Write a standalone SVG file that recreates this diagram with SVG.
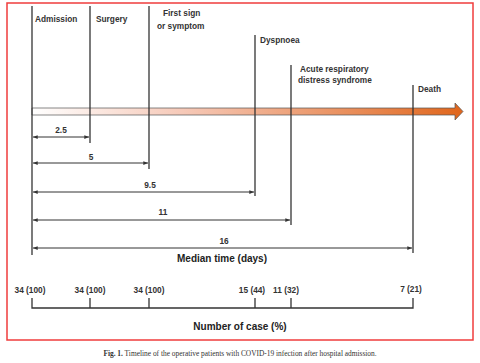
<svg xmlns="http://www.w3.org/2000/svg" width="480" height="363" viewBox="0 0 480 363">
<style>
.t{font-family:"Liberation Sans",Arial,sans-serif;font-weight:bold;font-size:8.3px;fill:#333}
.n{font-family:"Liberation Sans",Arial,sans-serif;font-weight:bold;font-size:8.3px;fill:#333}
.h{font-family:"Liberation Sans",Arial,sans-serif;font-weight:bold;font-size:10px;fill:#222}
.v{stroke:#333;stroke-width:1.3;fill:none}
.d{stroke:#333;stroke-width:1;fill:none;marker-start:url(#a);marker-end:url(#a)}
.cap{font-family:"Liberation Serif","Times New Roman",serif;font-size:7.4px;fill:#333}
</style>
<defs>
<linearGradient id="g" x1="0" x2="1" y1="0" y2="0">
<stop offset="0" stop-color="#ffffff"/>
<stop offset="0.35" stop-color="#f6c9b8"/>
<stop offset="1" stop-color="#e0661c"/>
</linearGradient>
<marker id="a" viewBox="0 0 8 8" refX="7.5" refY="4" markerWidth="5" markerHeight="5" orient="auto-start-reverse" markerUnits="userSpaceOnUse">
<path d="M0,1 L8,4 L0,7 Z" fill="#333"/>
</marker>
</defs>
<rect x="7" y="3" width="466" height="337" fill="#fff" stroke="#f03c3c" stroke-width="1.5"/>
<g id="timeline-arrow">
<path d="M32,108 L455,108 L455,103 L463,111.5 L455,120 L455,115 L32,115 Z" fill="url(#g)" stroke="#555" stroke-width="0.7"/>
</g>
<g id="connectors">
<line class="v" x1="32" y1="6" x2="32" y2="255"/>
<line class="v" x1="90" y1="6" x2="90" y2="143"/>
<line class="v" x1="149" y1="6" x2="149" y2="169"/>
<line class="v" x1="255" y1="35" x2="255" y2="196"/>
<line class="v" x1="291" y1="65" x2="291" y2="225"/>
<line class="v" x1="413" y1="85" x2="413" y2="253"/>
<line class="d" x1="33" y1="137" x2="89" y2="137"/>
<line class="d" x1="33" y1="163" x2="148" y2="163"/>
<line class="d" x1="33" y1="192" x2="254" y2="192"/>
<line class="d" x1="33" y1="220" x2="290" y2="220"/>
<line class="d" x1="33" y1="248" x2="412" y2="248"/>
<path class="v" d="M32,298 L32,308 L413,308 L413,298 M90,298 L90,308 M149,298 L149,308 M255,298 L255,308 M291,298 L291,308"/>
</g>
<g id="admission"><text class="t" x="35" y="22">Admission</text></g>
<g id="surgery"><text class="t" x="96" y="22">Surgery</text></g>
<g id="first-sign"><text class="t" x="163" y="16">First sign</text><text class="t" x="157" y="29">or symptom</text></g>
<g id="dyspnoea"><text class="t" x="260" y="43">Dyspnoea</text></g>
<g id="ards"><text class="t" x="300" y="72">Acute respiratory</text><text class="t" x="298" y="83">distress syndrome</text></g>
<g id="death"><text class="t" x="418" y="92">Death</text></g>
<g id="durations">
<text class="n" x="61" y="133" text-anchor="middle">2.5</text>
<text class="n" x="91" y="160" text-anchor="middle">5</text>
<text class="n" x="150" y="188" text-anchor="middle">9.5</text>
<text class="n" x="163" y="215" text-anchor="middle">11</text>
<text class="n" x="224" y="244" text-anchor="middle">16</text>
<text class="h" x="222" y="262" text-anchor="middle">Median time (days)</text>
</g>
<g id="counts">
<text class="t" x="30" y="293" text-anchor="middle">34 (100)</text>
<text class="t" x="90" y="293" text-anchor="middle">34 (100)</text>
<text class="t" x="149" y="293" text-anchor="middle">34 (100)</text>
<text class="t" x="252" y="293" text-anchor="middle">15 (44)</text>
<text class="t" x="286" y="293" text-anchor="middle">11 (32)</text>
<text class="t" x="411" y="292" text-anchor="middle">7 (21)</text>
<text class="h" x="240" y="330" text-anchor="middle">Number of case (%)</text>
</g>
<text class="cap" x="240" y="356" text-anchor="middle"><tspan font-weight="bold">Fig. 1.</tspan> Timeline of the operative patients with COVID-19 infection after hospital admission.</text>
</svg>
